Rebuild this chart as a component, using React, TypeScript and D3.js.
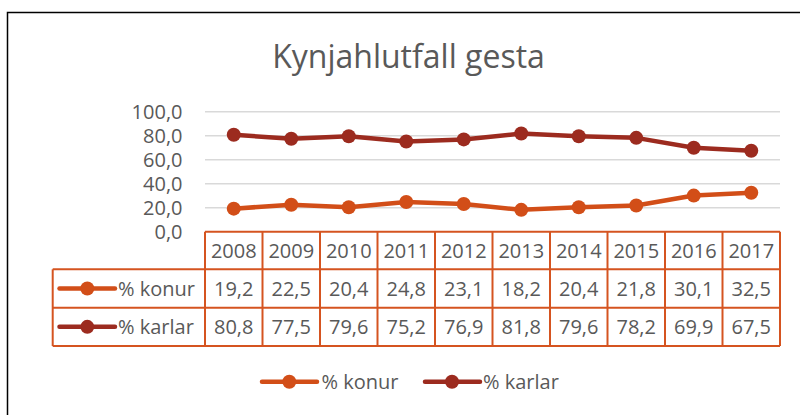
import React from "react";
import * as d3 from "d3";

const years = ["2008", "2009", "2010", "2011", "2012", "2013", "2014", "2015", "2016", "2017"];
const konur = [19.2, 22.5, 20.4, 24.8, 23.1, 18.2, 20.4, 21.8, 30.1, 32.5];
const karlar = [80.8, 77.5, 79.6, 75.2, 76.9, 81.8, 79.6, 78.2, 69.9, 67.5];
const yTicks = [0, 20, 40, 60, 80, 100];
const seriesNames = ["% konur", "% karlar"];
const seriesColors = ["#D24E18", "#9C2B1F"];
const title = "Kynjahlutfall gesta";

const FONT = "'Open Sans', sans-serif";
const TXT = "#595959";
const TABLE = "#D55420";

export default function App() {
  const W = 800, H = 415;
  const x0 = 205, x1 = 780;
  const yTop = 111.7, yBot = 231.7;
  const x = d3.scaleBand<string>().domain(years).range([x0, x1]);
  const y = d3.scaleLinear().domain([0, 100]).range([yBot, yTop]);
  const fmt = (v: number) => d3.format(".1f")(v).replace(".", ",");
  const line = d3.line<number>().x((_, i) => (x(years[i]) as number) + x.bandwidth() / 2).y((v) => y(v));
  const series = [konur, karlar];

  const rowY = [231.7, 269.3, 307.7, 346];
  const legX0 = 52.7;

  return (
    <div style={{ position: "absolute", left: 0, top: 0 }}>
      <svg width={W} height={H} style={{ display: "block", background: "#fff" }}>
        <rect x={7.5} y={12.5} width={820} height={430} fill="#fff" stroke="#000" strokeWidth={1.5} />
        <text x={408.5} y={68} textAnchor="middle" fontFamily={FONT} fontSize={32} fill={TXT}>{title}</text>
        {/* gridlines */}
        {yTicks.filter((t) => t > 0).map((t) => (
          <line key={t} x1={x0} x2={x1} y1={y(t)} y2={y(t)} stroke="#D9D9D9" strokeWidth={1.5} />
        ))}
        {yTicks.map((t) => (
          <text key={t} x={182.5} y={y(t)} dy="0.35em" textAnchor="end" fontFamily={FONT} fontSize={20} fill={TXT}>{fmt(t)}</text>
        ))}
        {/* lines */}
        {series.map((s, si) => (
          <g key={si}>
            <path d={line(s) || ""} fill="none" stroke={seriesColors[si]} strokeWidth={4.5} strokeLinejoin="round" />
            {s.map((v, i) => (
              <circle key={i} cx={(x(years[i]) as number) + x.bandwidth() / 2} cy={y(v)} r={7} fill={seriesColors[si]} />
            ))}
          </g>
        ))}
        {/* data table */}
        <g stroke={TABLE} strokeWidth={2} fill="none">
          <line x1={x0} x2={x1} y1={rowY[0]} y2={rowY[0]} />
          {[1, 2, 3].map((r) => (
            <line key={r} x1={legX0} x2={x1} y1={rowY[r]} y2={rowY[r]} />
          ))}
          <line x1={legX0} x2={legX0} y1={rowY[1]} y2={rowY[3]} />
          {years.map((yr) => (
            <line key={yr} x1={x(yr) as number} x2={x(yr) as number} y1={rowY[0]} y2={rowY[3]} />
          ))}
          <line x1={x1} x2={x1} y1={rowY[0]} y2={rowY[3]} />
        </g>
        {years.map((yr) => (
          <text key={yr} x={(x(yr) as number) + x.bandwidth() / 2} y={(rowY[0] + rowY[1]) / 2} dy="0.36em" textAnchor="middle" fontFamily={FONT} fontSize={20} fill={TXT}>{yr}</text>
        ))}
        {series.map((s, si) => (
          <g key={si}>
            {s.map((v, i) => (
              <text key={i} x={(x(years[i]) as number) + x.bandwidth() / 2} y={(rowY[si + 1] + rowY[si + 2]) / 2} dy="0.36em" textAnchor="middle" fontFamily={FONT} fontSize={20} fill={TXT}>{fmt(v)}</text>
            ))}
            <line x1={59.5} x2={115} y1={(rowY[si + 1] + rowY[si + 2]) / 2} y2={(rowY[si + 1] + rowY[si + 2]) / 2} stroke={seriesColors[si]} strokeWidth={4.5} strokeLinecap="round" />
            <circle cx={87.3} cy={(rowY[si + 1] + rowY[si + 2]) / 2} r={7} fill={seriesColors[si]} />
            <text x={118} y={(rowY[si + 1] + rowY[si + 2]) / 2} dy="0.36em" fontFamily={FONT} fontSize={20} fill={TXT}>{seriesNames[si]}</text>
          </g>
        ))}
        {/* legend */}
        {[{ lx: 262, cx: 289.3, tx: 321.5 }, { lx: 425, cx: 452, tx: 483 }].map((p, si) => (
          <g key={si}>
            <line x1={p.lx} x2={p.lx + 55} y1={381.7} y2={381.7} stroke={seriesColors[si]} strokeWidth={4.5} strokeLinecap="round" />
            <circle cx={p.cx} cy={381.7} r={7} fill={seriesColors[si]} />
            <text x={p.tx} y={381.7} dy="0.36em" fontFamily={FONT} fontSize={20} fill={TXT}>{seriesNames[si]}</text>
          </g>
        ))}
      </svg>
    </div>
  );
}
